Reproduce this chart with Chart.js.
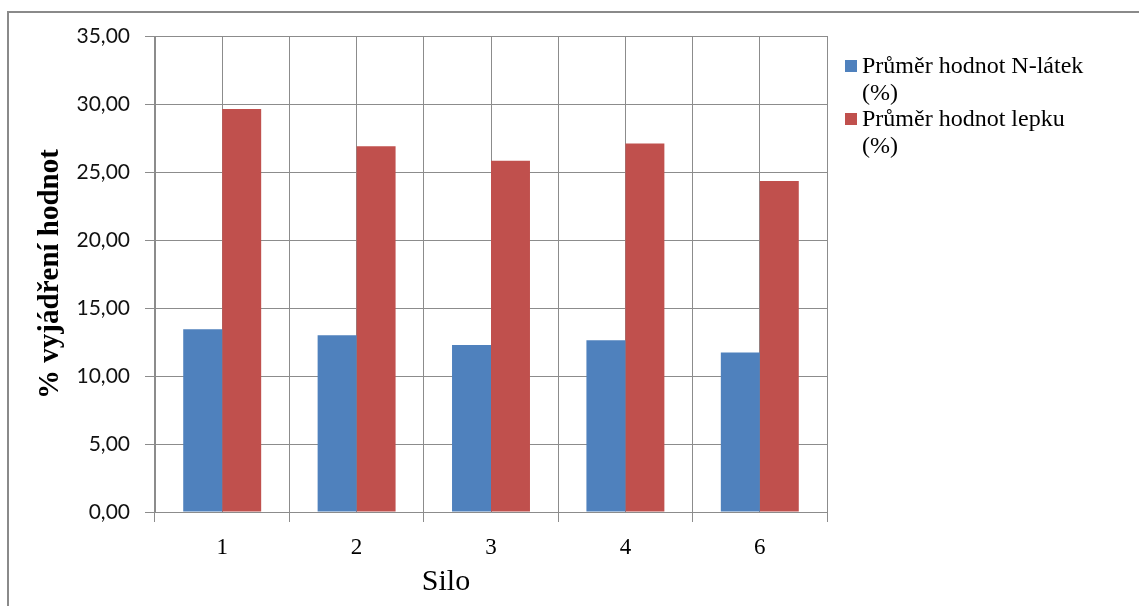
<!DOCTYPE html>
<html><head><meta charset="utf-8">
<script src="https://cdn.jsdelivr.net/npm/chart.js@4"></script>
<style>
html,body{margin:0;padding:0;background:#fff;}
#wrap{position:relative;width:1139px;height:606px;overflow:hidden;}
#frame{position:absolute;left:7px;top:11px;width:1200px;height:700px;border:2px solid #8a8a8a;box-sizing:border-box;}
#c{position:absolute;left:0;top:0;}
</style></head>
<body>
<div id="wrap">
<div id="frame"></div>
<canvas id="c" width="1139" height="606"></canvas>
</div>
<script>
const categories = ['1', '2', '3', '4', '6'];
const seriesNames = ['Průměr hodnot N-látek', 'Průměr hodnot lepku'];
const seriesUnit = '(%)';
const nLatky = [13.43, 12.99, 12.28, 12.62, 11.72];
const lepek = [29.63, 26.90, 25.83, 27.10, 24.34];
const yTickValues = [0, 5, 10, 15, 20, 25, 30, 35];
const colors = ['#4F81BD', '#C0504D'];
const gridC = '#8c8c8c';

const pad = '\u00A0'.repeat(12);

const sideLegend = {
  id: 'sideLegend',
  afterDraw(chart) {
    const ctx = chart.ctx;
    const x0 = chart.chartArea.right + 18;
    const y0 = 66;
    const lh = 26.5;
    ctx.save();
    ctx.font = '24px "Liberation Serif"';
    ctx.fillStyle = '#000';
    ctx.textBaseline = 'middle';
    ctx.textAlign = 'left';
    chart.data.datasets.forEach((ds, i) => {
      const y = y0 + i * 2 * lh;
      ctx.fillStyle = ds.backgroundColor;
      ctx.fillRect(x0, y - 6, 12, 12);
      ctx.fillStyle = '#000';
      ctx.fillText(seriesNames[i], x0 + 17, y + 1);
      ctx.fillText(seriesUnit, x0 + 17, y + lh + 1);
    });
    ctx.restore();
  }
};

new Chart(document.getElementById('c'), {
  type: 'bar',
  data: {
    labels: categories,
    datasets: [
      { label: seriesNames[0] + ' ' + seriesUnit, data: nLatky, backgroundColor: colors[0], borderWidth: 0, categoryPercentage: 0.58, barPercentage: 1 },
      { label: seriesNames[1] + ' ' + seriesUnit, data: lepek, backgroundColor: colors[1], borderWidth: 0, categoryPercentage: 0.58, barPercentage: 1 }
    ]
  },
  plugins: [sideLegend],
  options: {
    responsive: false,
    animation: false,
    layout: { padding: { left: 0, right: 312, top: 36, bottom: 0 } },
    plugins: { legend: { display: false }, tooltip: { enabled: false } },
    scales: {
      x: {
        type: 'category',
        offset: true,
        grid: { offset: true, color: gridC, lineWidth: 1, tickLength: 10 },
        border: { color: gridC },
        ticks: { font: { family: 'Liberation Serif', size: 23 }, color: '#000', padding: 12 },
        title: { display: true, text: 'Silo' + pad, font: { family: 'Liberation Serif', size: 30 }, color: '#000', padding: { top: 0, bottom: 6 } },
        afterFit(s) { s.height = 94; }
      },
      x2: {
        type: 'category',
        position: 'top',
        offset: true,
        grid: { offset: false, color: gridC, lineWidth: 1, drawTicks: false },
        border: { display: false },
        ticks: { display: false }
      },
      y: {
        min: 0, max: 35,
        afterBuildTicks(s) { s.ticks = yTickValues.map(v => ({ value: v })); },
        ticks: {
          font: { family: 'Lato', size: 21 }, color: '#111', padding: 15,
          callback: v => v.toFixed(2).replace('.', ',')
        },
        grid: { color: gridC, lineWidth: 1, tickLength: 10 },
        border: { color: gridC },
        title: { display: true, text: '% vyjádření hodnot', font: { family: 'Liberation Serif', size: 29, weight: 'bold' }, color: '#000', padding: { top: 33, bottom: 0 } },
        afterFit(s) { s.width = 155; }
      }
    }
  }
});
</script>
</body></html>
